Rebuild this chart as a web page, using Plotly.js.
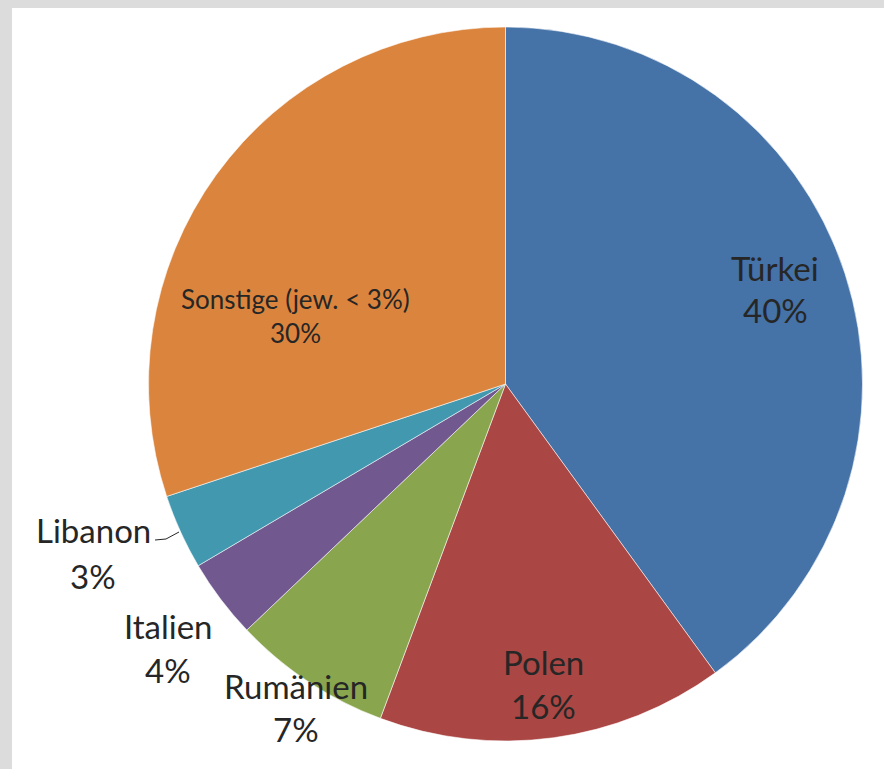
<!DOCTYPE html>
<html>
<head>
<meta charset="utf-8">
<script src="https://cdn.plot.ly/plotly-3.0.1.min.js"></script>
<style>html,body{margin:0;padding:0;background:#dcdcdc;}#chart{width:884px;height:769px;}</style>
</head>
<body>
<div id="chart"></div>
<script>
// Data (clockwise from 12 o'clock)
const countries = ["Türkei", "Polen", "Rumänien", "Italien", "Libanon", "Sonstige (jew. < 3%)"];
const shares = [40.0, 15.7, 7.2, 3.6, 3.4, 30.1];
const sliceColors = ["#4572A7", "#AA4643", "#89A54E", "#71588F", "#4198AF", "#DB843D"];

const W = 884, H = 769;
const px = x => x / W;
const py = y => 1 - y / H;

// label layout: [index, centerX, nameY, pctY, fontSize]
const labelPos = [
  [0, 775, 268, 310, 33],
  [1, 543, 662, 706, 33],
  [2, 296, 686, 729, 33],
  [3, 168, 626, 670, 33],
  [4, 93, 530, 576, 33],
  [5, 295, 299, 333, 26]
];
const total = shares.reduce((a, b) => a + b, 0);
const annotations = [];
labelPos.forEach(([i, cx, ny, py2, fs]) => {
  const pct = Math.round(shares[i] / total * 100) + "%";
  [[countries[i], ny], [pct, py2]].forEach(([t, y]) => {
    annotations.push({
      text: t, x: px(cx), y: py(y), xref: "paper", yref: "paper",
      xanchor: "center", yanchor: "middle", showarrow: false,
      font: {family: "Lato, 'Open Sans', sans-serif", size: fs, color: "#262626"}
    });
  });
});

const cx = 505.5, cy = 384, r = 357;
const data = [{
  type: "pie",
  labels: countries,
  values: shares,
  sort: false,
  direction: "clockwise",
  rotation: 0,
  textinfo: "none",
  hoverinfo: "label+percent",
  marker: {colors: sliceColors, line: {color: "rgba(255,255,255,0.7)", width: 0.8}},
  domain: {x: [px(cx - r), px(cx + r)], y: [py(cy + r), py(cy - r)]},
  showlegend: false
}];

const layout = {
  width: W, height: H,
  margin: {l: 0, r: 0, t: 0, b: 0},
  paper_bgcolor: "#dcdcdc",
  showlegend: false,
  annotations: annotations,
  shapes: [
    {type: "rect", xref: "paper", yref: "paper", x0: px(12), x1: 1.01, y0: -0.01, y1: py(8),
     fillcolor: "#ffffff", line: {width: 0}, layer: "below"},
    {type: "path", xref: "paper", yref: "paper",
     path: `M ${px(155)} ${py(540)} L ${px(166)} ${py(539)} L ${px(179)} ${py(532)}`,
     line: {color: "#262626", width: 1}}
  ]
};

Plotly.newPlot("chart", data, layout, {displayModeBar: false, staticPlot: true});
</script>
</body>
</html>
